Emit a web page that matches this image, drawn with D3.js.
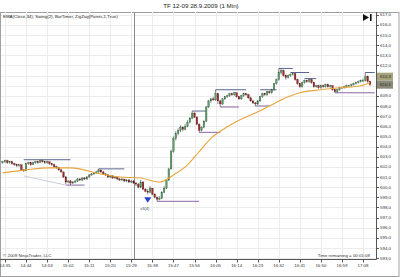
<!DOCTYPE html>
<html>
<head>
<meta charset="utf-8">
<script src="https://cdn.jsdelivr.net/npm/d3@7"></script>
<style>
  body { margin: 0; background: #fff; }
  svg { display: block; font-family: "Liberation Sans", Arial, sans-serif; }
</style>
</head>
<body>
<svg id="chart" width="400" height="277"></svg>
<script>
// 1 minute bars, TF 12-09, 28.9.2009
var firstBar = '14:34';

var opens = [
  602.4, 602.5, 602.6, 602.4, 602.5, 602.3, 602.2, 602.1, 602.2, 601.7,
  601.6, 602.3, 602.4, 602.2, 602.4, 602.5, 602.4, 602.6, 602.5, 602.4,
  602.5, 602.3, 602.2, 602.0, 601.9, 601.7, 601.5, 601.0, 600.5, 600.6,
  600.4, 600.5, 600.6, 600.8, 600.7, 600.9, 600.8, 601.0, 601.2, 601.3,
  601.4, 601.5, 601.7, 601.5, 601.3, 601.2, 601.0, 601.1, 600.9, 601.0,
  600.8, 600.7, 600.8, 600.6, 600.7, 600.5, 600.6, 600.4, 600.3, 600.0,
  600.5, 599.8, 599.6, 599.5, 599.9, 599.3, 599.0, 598.8, 598.9, 599.5,
  599.9, 600.7, 601.8, 603.5, 604.8, 605.3, 605.6, 605.9, 605.7, 606.0,
  606.4, 606.8, 607.3, 606.9, 606.2, 605.6, 605.9, 606.5, 607.9, 608.5,
  608.7, 608.6, 609.2, 608.5, 608.2, 608.7, 608.9, 609.0, 609.2, 609.1,
  609.3, 608.9, 608.7, 609.0, 609.2, 609.1, 608.8, 608.5, 608.3, 608.2,
  608.5, 608.9, 609.2, 609.1, 609.4, 609.3, 609.6, 610.2, 610.6, 611.3,
  611.5, 611.0, 610.8, 611.0, 611.1, 611.2, 610.6, 610.2, 609.9, 610.3,
  610.5, 610.4, 610.6, 610.3, 609.9, 610.0, 609.8, 610.0, 609.9, 610.1,
  609.9, 610.0, 609.6, 609.4, 609.6, 609.8, 609.8, 609.9, 610.0, 610.0,
  610.1, 610.2, 610.3, 610.4, 610.5, 610.5, 610.9, 610.4
];
var highs = [
  602.6, 602.7, 602.7, 602.6, 602.6, 602.4, 602.3, 602.3, 602.2, 601.8,
  602.4, 602.5, 602.5, 602.5, 602.6, 602.6, 602.7, 602.7, 602.6, 602.6,
  602.5, 602.4, 602.3, 602.1, 602.0, 601.8, 601.5, 601.1, 600.7, 600.7,
  600.6, 600.7, 600.9, 600.9, 601.0, 601.0, 601.1, 601.3, 601.4, 601.5,
  601.6, 601.8, 601.7, 601.6, 601.4, 601.3, 601.2, 601.2, 601.1, 601.0,
  600.9, 600.9, 600.8, 600.8, 600.8, 600.7, 600.7, 600.5, 600.4, 600.7,
  600.6, 599.9, 599.8, 600.1, 599.9, 599.4, 599.1, 599.1, 599.6, 600.1,
  600.8, 601.9, 603.7, 605.0, 605.5, 605.8, 606.1, 606.0, 606.2, 606.6,
  606.9, 607.5, 607.4, 607.0, 606.3, 606.0, 606.6, 608.0, 608.6, 608.8,
  608.9, 609.6, 609.3, 608.6, 608.8, 609.0, 609.1, 609.3, 609.3, 609.4,
  609.3, 609.0, 609.1, 609.3, 609.3, 609.2, 608.9, 608.6, 608.4, 608.6,
  609.0, 609.3, 609.3, 609.5, 609.5, 609.7, 610.3, 610.7, 611.7, 611.7,
  611.6, 611.1, 611.1, 611.2, 611.3, 611.2, 610.7, 610.3, 610.4, 610.6,
  610.6, 610.7, 610.7, 610.4, 610.1, 610.1, 610.1, 610.1, 610.2, 610.2,
  610.1, 610.0, 609.7, 609.7, 609.9, 609.9, 610.0, 610.1, 610.1, 610.2,
  610.3, 610.4, 610.5, 610.6, 610.7, 611.3, 611.0, 610.5
];
var lows = [
  602.3, 602.4, 602.3, 602.3, 602.2, 602.1, 602.0, 602.0, 601.6, 601.5,
  601.6, 602.2, 602.1, 602.2, 602.3, 602.3, 602.4, 602.4, 602.3, 602.3,
  602.2, 602.1, 601.9, 601.8, 601.6, 601.4, 600.9, 600.3, 600.4, 600.2,
  600.3, 600.4, 600.5, 600.6, 600.6, 600.7, 600.7, 600.9, 601.1, 601.2,
  601.3, 601.4, 601.4, 601.2, 601.1, 600.9, 600.9, 600.8, 600.8, 600.7,
  600.6, 600.6, 600.5, 600.5, 600.4, 600.4, 600.3, 600.1, 599.9, 599.9,
  599.7, 599.5, 599.3, 599.4, 599.2, 598.9, 598.6, 598.7, 598.8, 599.4,
  599.8, 600.6, 601.7, 603.4, 604.6, 605.1, 605.4, 605.5, 605.6, 605.9,
  606.3, 606.7, 606.8, 606.1, 605.4, 605.5, 605.8, 606.4, 607.8, 608.3,
  608.5, 608.5, 608.2, 607.9, 608.1, 608.6, 608.8, 608.9, 609.0, 609.0,
  608.8, 608.6, 608.6, 608.9, 609.0, 608.7, 608.4, 608.2, 608.0, 608.1,
  608.4, 608.8, 609.0, 609.0, 609.2, 609.2, 609.5, 610.1, 610.5, 611.1,
  610.9, 610.6, 610.7, 610.9, 611.0, 610.5, 610.1, 609.8, 609.8, 610.2,
  610.3, 610.3, 610.2, 609.8, 609.8, 609.7, 609.7, 609.8, 609.8, 609.8,
  609.8, 609.5, 609.3, 609.3, 609.5, 609.7, 609.7, 609.8, 609.9, 609.9,
  610.0, 610.1, 610.2, 610.3, 610.4, 610.4, 610.3, 610.0
];
var closes = [
  602.5, 602.6, 602.4, 602.5, 602.3, 602.2, 602.1, 602.2, 601.7, 601.6,
  602.3, 602.4, 602.2, 602.4, 602.5, 602.4, 602.6, 602.5, 602.4, 602.5,
  602.3, 602.2, 602.0, 601.9, 601.7, 601.5, 601.0, 600.5, 600.6, 600.4,
  600.5, 600.6, 600.8, 600.7, 600.9, 600.8, 601.0, 601.2, 601.3, 601.4,
  601.5, 601.7, 601.5, 601.3, 601.2, 601.0, 601.1, 600.9, 601.0, 600.8,
  600.7, 600.8, 600.6, 600.7, 600.5, 600.6, 600.4, 600.3, 600.0, 600.5,
  599.8, 599.6, 599.5, 599.9, 599.3, 599.0, 598.8, 598.9, 599.5, 599.9,
  600.7, 601.8, 603.5, 604.8, 605.3, 605.6, 605.9, 605.7, 606.0, 606.4,
  606.8, 607.3, 606.9, 606.2, 605.6, 605.9, 606.5, 607.9, 608.5, 608.7,
  608.6, 609.2, 608.5, 608.2, 608.7, 608.9, 609.0, 609.2, 609.1, 609.3,
  608.9, 608.7, 609.0, 609.2, 609.1, 608.8, 608.5, 608.3, 608.2, 608.5,
  608.9, 609.2, 609.1, 609.4, 609.3, 609.6, 610.2, 610.6, 611.3, 611.5,
  611.0, 610.8, 611.0, 611.1, 611.2, 610.6, 610.2, 609.9, 610.3, 610.5,
  610.4, 610.6, 610.3, 609.9, 610.0, 609.8, 610.0, 609.9, 610.1, 609.9,
  610.0, 609.6, 609.4, 609.6, 609.8, 609.8, 609.9, 610.0, 610.0, 610.1,
  610.2, 610.3, 610.4, 610.5, 610.5, 610.9, 610.4, 610.1
];

// EMA(Close,34)
var emaTimes = ['14:34', '14:44', '14:54', '15:03', '15:16', '15:24', '15:33', '15:41', '15:47', '15:53',
  '15:58', '16:03', '16:09', '16:15', '16:22', '16:28', '16:35', '16:41', '16:50', '16:58', '17:07', '17:11'];
var emaValues = [601.4, 601.7, 601.9, 601.9, 601.3, 601.0, 600.9, 600.5, 601.2, 602.2,
  603.5, 604.8, 605.8, 606.6, 607.3, 608.0, 608.8, 609.3, 609.6, 609.8, 610.0, 610.3];

// Swing(2) lines: start, end, price
var swingHighs = [
  ['14:43', '15:03', 602.7], ['15:15', '15:26', 601.8], ['15:55', '16:01', 607.5],
  ['16:05', '16:18', 609.6], ['16:24', '16:31', 609.6], ['16:32', '16:38', 611.7],
  ['16:37', '16:45', 611.3], ['16:43', '16:48', 610.7], ['17:09', '17:13', 611.3]
];
var swingLows = [
  ['15:01', '15:09', 600.2], ['15:40', '15:58', 598.6], ['15:58', '16:07', 605.4],
  ['16:07', '16:15', 607.9], ['16:22', '16:28', 608.0], ['16:56', '17:13', 609.3]
];
var zigzag = [['14:43', 601.1], ['15:01', 600.2]];

var timeLabels = ['14:35', '14:44', '14:53', '15:02', '15:11', '15:20', '15:29', '15:38', '15:47',
  '15:56', '16:05', '16:14', '16:23', '16:32', '16:41', '16:50', '16:59', '17:08'];
var priceTicks = [593, 594, 595, 596, 597, 598, 599, 600, 601, 602, 603, 604, 605,
  606, 607, 608, 609, 610, 611, 612, 613, 614, 615, 616, 617];

var parseTime = d3.timeParse('%H:%M');
var start = d3.timeMinute.offset(parseTime(firstBar), -1);

var plot = {left: 1, right: 376, top: 12, bottom: 259};
var upColor = '#5c9e6c', downColor = '#9c2c2c';

var x = d3.scaleTime()
  .domain([start, d3.timeMinute.offset(start, 160)])
  .range([0.3, 374.7]);
var y = d3.scaleLinear()
  .domain([593, 617])
  .range([258.1, 14.7]);

var bars = closes.map(function (c, i) {
  return {t: d3.timeMinute.offset(parseTime(firstBar), i), o: opens[i], h: highs[i], l: lows[i], c: c};
});

var svg = d3.select('#chart');
var fmt = function (v) { return d3.format('.1f')(v).replace('.', ','); };

// window frame
svg.append('rect').attr('x', 0.5).attr('y', 12.5).attr('width', 398.5).attr('height', 264)
  .attr('fill', '#fff').attr('stroke', '#a0a0a0');

svg.append('text').attr('x', 201).attr('y', 8).attr('text-anchor', 'middle')
  .attr('font-size', 6.2).attr('fill', '#222').text('TF 12-09  28.9.2009 (1 Min)');

svg.append('clipPath').attr('id', 'plotclip').append('rect')
  .attr('x', plot.left).attr('y', plot.top).attr('width', plot.right - plot.left).attr('height', plot.bottom - plot.top);

// grid
var grid = svg.append('g').attr('stroke', '#ececec').attr('stroke-width', 1);
grid.selectAll('line.h').data(priceTicks).enter().append('line')
  .attr('x1', plot.left).attr('x2', plot.right)
  .attr('y1', function (d) { return Math.round(y(d)) + 0.5; })
  .attr('y2', function (d) { return Math.round(y(d)) + 0.5; });
grid.selectAll('line.v').data(timeLabels).enter().append('line')
  .attr('y1', plot.top).attr('y2', plot.bottom)
  .attr('x1', function (d) { return Math.round(x(parseTime(d))) + 0.5; })
  .attr('x2', function (d) { return Math.round(x(parseTime(d))) + 0.5; });

// vertical marker line
svg.append('line').attr('x1', 134.5).attr('x2', 134.5).attr('y1', plot.top).attr('y2', plot.bottom)
  .attr('stroke', '#8a8a8a').attr('stroke-width', 1);

var g = svg.append('g').attr('clip-path', 'url(#plotclip)');

// zigzag
g.append('path').datum(zigzag)
  .attr('d', d3.line().x(function (d) { return x(parseTime(d[0])); }).y(function (d) { return y(d[1]); }))
  .attr('fill', 'none').attr('stroke', '#b8c4d8').attr('stroke-width', 0.8);

// swing lines
function swingLines(data, color) {
  g.selectAll(null).data(data).enter().append('line')
    .attr('x1', function (d) { return x(parseTime(d[0])); })
    .attr('x2', function (d) { return x(parseTime(d[1])); })
    .attr('y1', function (d) { return y(d[2]); })
    .attr('y2', function (d) { return y(d[2]); })
    .attr('stroke', color).attr('stroke-width', 1);
}
swingLines(swingHighs, '#5a6690');
swingLines(swingLows, '#8a66a6');

// candles
var candle = g.selectAll('g.bar').data(bars).enter().append('g');
candle.append('line')
  .attr('x1', function (d) { return x(d.t); })
  .attr('x2', function (d) { return x(d.t); })
  .attr('y1', function (d) { return y(d.h); })
  .attr('y2', function (d) { return y(d.l); })
  .attr('stroke', '#333').attr('stroke-width', 0.6);
candle.append('rect')
  .attr('x', function (d) { return x(d.t) - 0.8; })
  .attr('width', 1.6)
  .attr('y', function (d) { return y(Math.max(d.o, d.c)); })
  .attr('height', function (d) { return Math.max(0.6, Math.abs(y(d.o) - y(d.c))); })
  .attr('fill', function (d) { return d.c >= d.o ? upColor : downColor; })
  .attr('stroke', function (d) { return d.c >= d.o ? '#2f5a3a' : '#5a1818'; })
  .attr('stroke-width', 0.3);

// EMA
g.append('path')
  .datum(emaValues)
  .attr('d', d3.line()
    .x(function (d, i) { return x(parseTime(emaTimes[i])); })
    .y(function (d) { return y(d); })
    .curve(d3.curveMonotoneX))
  .attr('fill', 'none').attr('stroke', '#e8a43a').attr('stroke-width', 1.1);

// swing point marker
var mx = x(parseTime('15:36')), my = y(598.8);
svg.append('path').attr('d', 'M' + (mx - 3.5) + ',' + (my - 2) + 'L' + (mx + 3.5) + ',' + (my - 2) + 'L' + mx + ',' + (my + 3.5) + 'Z')
  .attr('fill', '#2a44c8');
svg.append('text').attr('x', mx - 3).attr('y', my + 11).attr('text-anchor', 'middle')
  .attr('font-size', 4).attr('fill', '#444').text('v3(4)');

// price markers on the axis: last price, EMA stacked above it
var last = bars[bars.length - 1];
var boxH = 8;
var priceBoxTop = y(last.c) - boxH / 2;
var markers = [
  {top: priceBoxTop - boxH, fill: '#a6a47c', label: fmt(emaValues[emaValues.length - 1])},
  {top: priceBoxTop, fill: '#8a8a78', label: fmt(last.c)}
];
var markerTop = markers[0].top, markerBottom = priceBoxTop + boxH;

// axes
svg.append('line').attr('x1', plot.right + 0.5).attr('x2', plot.right + 0.5)
  .attr('y1', plot.top).attr('y2', plot.bottom + 0.5).attr('stroke', '#555');
svg.append('line').attr('x1', 0).attr('x2', plot.right + 0.5)
  .attr('y1', plot.bottom + 0.5).attr('y2', plot.bottom + 0.5).attr('stroke', '#555');

var yAxis = svg.append('g').attr('font-size', 4.4).attr('fill', '#333');
yAxis.selectAll('line').data(priceTicks).enter().append('line')
  .attr('x1', plot.right).attr('x2', plot.right + 3)
  .attr('y1', function (d) { return Math.round(y(d)) + 0.5; })
  .attr('y2', function (d) { return Math.round(y(d)) + 0.5; })
  .attr('stroke', '#555');
// labels hidden behind the price markers are not drawn
yAxis.selectAll('text')
  .data(priceTicks.filter(function (d) { return y(d) < markerTop - 3 || y(d) > markerBottom + 3; }))
  .enter().append('text')
  .attr('x', plot.right + 4).attr('y', function (d) { return y(d) + 1.6; })
  .text(fmt);

var xAxis = svg.append('g').attr('font-size', 4.4).attr('fill', '#333');
xAxis.selectAll('line').data(timeLabels).enter().append('line')
  .attr('x1', function (d) { return Math.round(x(parseTime(d))) + 0.5; })
  .attr('x2', function (d) { return Math.round(x(parseTime(d))) + 0.5; })
  .attr('y1', plot.bottom).attr('y2', plot.bottom + 3.5)
  .attr('stroke', '#555');
xAxis.selectAll('text').data(timeLabels).enter().append('text')
  .attr('x', function (d) { return x(parseTime(d)); })
  .attr('y', plot.bottom + 7.5).attr('text-anchor', 'middle')
  .text(function (d) { return d; });

var mk = svg.append('g');
markers.forEach(function (m) {
  mk.append('rect').attr('x', plot.right + 1).attr('y', m.top).attr('width', 16).attr('height', boxH)
    .attr('fill', m.fill);
  mk.append('text').attr('x', plot.right + 4).attr('y', m.top + boxH / 2 + 1.6)
    .attr('font-size', 4.4).attr('fill', '#222').text(m.label);
});

// texts
svg.append('text').attr('x', 3).attr('y', 17.5).attr('font-size', 4.4).attr('fill', '#222')
  .text('EMA(Close,34), Swing(2), BarTimer, ZigZag(Points,1,True)');
svg.append('text').attr('x', 3).attr('y', 257).attr('font-size', 4.4).attr('fill', '#333')
  .text('\u00a9 2009 NinjaTrader, LLC');
svg.append('text').attr('x', 370).attr('y', 256.5).attr('text-anchor', 'end').attr('font-size', 4.4).attr('fill', '#333')
  .text('Time remaining = 00:01:08');

// chart-scroll button
svg.append('path').attr('d', 'M363,14L369,17.5L363,21Z').attr('fill', '#111');
svg.append('rect').attr('x', 370).attr('y', 14).attr('width', 1.6).attr('height', 7).attr('fill', '#111');
</script>
</body>
</html>
